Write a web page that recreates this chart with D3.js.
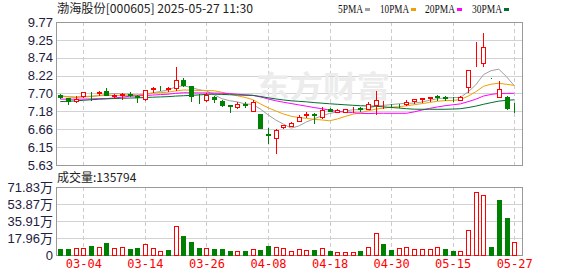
<!DOCTYPE html>
<html lang="zh">
<head>
  <meta charset="UTF-8">
  <title>渤海股份 K线</title>
  <style>
    body {
      margin: 0;
      padding: 0;
      background: #ffffff;
    }
    svg text {
      font-family: "Liberation Sans", Arial, sans-serif;
    }
  </style>
</head>
<body>
  <svg id="chart" width="578" height="276"></svg>

  <script src="https://d3js.org/d3.v7.min.js"></script>
  <script>
    const width = 578;
    const height = 276;

    // trading days shown
    const dates = [
      "02-27","02-28","03-03","03-04","03-05","03-06","03-07","03-10","03-11","03-12",
      "03-13","03-14","03-17","03-18","03-19","03-20","03-21","03-24","03-25","03-26",
      "03-27","03-28","03-31","04-01","04-02","04-03","04-07","04-08","04-09","04-10",
      "04-11","04-14","04-15","04-16","04-17","04-18","04-21","04-22","04-23","04-24",
      "04-25","04-28","04-29","04-30","05-06","05-07","05-08","05-09","05-12","05-13",
      "05-14","05-15","05-16","05-19","05-20","05-21","05-22","05-23","05-26","05-27"
    ];

    const opens = [
      7.67,7.56,7.48,7.63,7.72,7.71,7.77,7.62,7.66,7.68,
      7.62,7.55,7.84,7.89,7.84,7.85,8.10,7.91,7.58,7.51,
      7.60,7.49,7.37,7.30,7.41,7.20,7.10,6.52,6.40,6.72,
      6.77,6.90,7.08,7.11,7.01,7.25,7.15,7.17,7.24,7.27,
      7.25,7.36,7.36,7.37,7.38,7.39,7.47,7.55,7.58,7.62,
      7.60,7.58,7.52,7.89,8.60,8.59,8.15,7.61,7.59,7.31
    ];
    const highs = [
      7.69,7.57,7.62,7.74,7.73,7.77,7.85,7.68,7.70,7.75,
      7.65,7.80,7.88,7.91,7.89,8.47,8.15,7.93,7.68,7.72,
      7.64,7.50,7.37,7.44,7.44,7.51,7.10,6.69,6.67,6.80,
      6.87,7.07,7.17,7.14,7.31,7.27,7.25,7.26,7.30,7.31,
      7.46,7.78,7.49,7.41,7.40,7.52,7.54,7.57,7.59,7.67,
      7.63,7.60,7.63,8.37,9.18,9.45,8.15,8.05,7.63,7.43
    ];
    const lows = [
      7.58,7.41,7.45,7.60,7.50,7.66,7.66,7.58,7.55,7.62,
      7.46,7.52,7.75,7.80,7.78,7.79,7.92,7.49,7.43,7.48,
      7.46,7.34,7.17,7.29,7.30,7.20,6.71,6.27,5.99,6.70,
      6.75,6.89,7.01,6.86,6.98,7.18,7.15,7.16,7.17,7.18,
      7.24,7.12,7.29,7.33,7.31,7.38,7.43,7.44,7.47,7.51,
      7.51,7.49,7.50,7.75,8.49,8.49,8.15,7.61,7.25,7.17
    ];
    const closes = [
      7.60,7.47,7.55,7.73,7.71,7.73,7.66,7.67,7.68,7.66,
      7.60,7.80,7.86,7.88,7.85,8.08,7.94,7.63,7.56,7.66,
      7.53,7.37,7.34,7.39,7.37,7.45,6.71,6.50,6.64,6.78,
      6.86,7.01,7.10,7.08,7.22,7.20,7.22,7.24,7.26,7.25,
      7.39,7.51,7.38,7.36,7.37,7.46,7.53,7.56,7.59,7.60,
      7.58,7.56,7.61,8.37,8.62,9.06,8.15,7.82,7.29,7.30
    ];
    // closes of the 29 sessions before the window (needed for the moving averages)
    const priorCloses = [
      7.20,7.18,7.22,7.25,7.24,7.35,7.42,7.45,7.48,7.44,
      7.46,7.60,7.65,7.62,7.58,7.64,7.30,7.20,7.15,7.40,
      7.55,7.60,7.62,7.60,7.58,7.62,7.66,7.64,7.66
    ];
    // volume in 万手
    const volumes = [
      6.2,6.2,6.9,6.9,9.4,8.3,12.5,6.9,8.0,6.2,
      7.3,11.1,6.9,3.8,5.2,30.9,19.8,13.5,7.3,6.9,
      6.2,6.2,4.2,3.8,4.2,5.9,5.2,9.4,8.3,6.9,
      3.8,5.9,4.9,5.2,6.9,4.2,2.8,2.8,2.8,4.2,
      8.0,23.6,11.5,5.2,6.9,8.0,5.9,5.9,5.9,8.0,
      6.2,4.2,3.8,26.7,66.3,63.2,8.3,58.3,39.6,13.58
    ];

    const priceTicks = [5.63, 6.15, 6.66, 7.18, 7.70, 8.22, 8.74, 9.25, 9.77];
    const volTicks = [0, 17.96, 35.91, 53.87, 71.83];
    const dateTicks = ["03-04","03-14","03-26","04-08","04-18","04-30","05-15","05-27"];
    const maPeriods = [5, 10, 20, 30];
    const maColors = ["#a0a0a0", "#f0a000", "#ff00ff", "#006f2e"];

    const RED = "#ff0000";
    const GREEN = "#008000";

    const plotLeft = 56, plotRight = 522;
    const priceTop = 22, priceBottom = 165;
    const volTop = 187, volBottom = 255;

    const svg = d3.select("#chart");

    const x = d3.scalePoint().domain(dates).range([60.3, 514.2]);
    const y = d3.scaleLinear().domain([5.63, 9.77]).range([priceBottom, priceTop]);
    const yv = d3.scaleLinear().domain([0, 71.83]).range([volBottom, volTop]);
    const px = d => Math.round(x(d)) + 0.5;

    // grids
    function drawGrid(top, bottom, scale, ticks) {
      svg.append("g").selectAll("line")
        .data(ticks.slice(1, -1))
        .enter().append("line")
        .attr("x1", plotLeft).attr("x2", plotRight)
        .attr("y1", d => Math.round(scale(d)) + 0.5)
        .attr("y2", d => Math.round(scale(d)) + 0.5)
        .attr("stroke", "#d2d2d2");
      svg.append("g").selectAll("line")
        .data(dateTicks)
        .enter().append("line")
        .attr("x1", px).attr("x2", px)
        .attr("y1", top).attr("y2", bottom)
        .attr("stroke", "#cccccc")
        .attr("stroke-dasharray", "4,3");
      svg.append("rect")
        .attr("x", plotLeft + 0.5).attr("y", top + 0.5)
        .attr("width", plotRight - plotLeft).attr("height", bottom - top)
        .attr("fill", "none")
        .attr("stroke", "#999999");
    }
    drawGrid(priceTop, priceBottom, y, priceTicks);
    drawGrid(volTop, volBottom, yv, volTicks);

    // watermark
    svg.append("text")
      .attr("x", 256).attr("y", 97)
      .attr("textLength", 134)
      .attr("lengthAdjust", "spacingAndGlyphs")
      .style("font-family", "'Noto Sans CJK SC'")
      .style("font-size", "30px")
      .style("font-weight", "bold")
      .style("fill", "#ececec")
      .text("东方财富");

    // axes labels
    const axisColor = "#1e2040";
    const yAxis = d3.axisLeft(y).tickValues(priceTicks).tickSize(0).tickPadding(3)
      .tickFormat(d3.format(".2f"));
    svg.append("g")
      .attr("transform", `translate(${plotLeft},0)`)
      .call(yAxis)
      .call(g => g.select(".domain").remove())
      .selectAll("text")
      .style("font-size", "13px")
      .style("font-family", "'Liberation Sans'")
      .style("fill", axisColor);

    const vAxis = d3.axisLeft(yv).tickValues(volTicks).tickSize(0).tickPadding(3)
      .tickFormat(d => d === 0 ? "0" : d3.format(".2f")(d) + "万");
    svg.append("g")
      .attr("transform", `translate(${plotLeft},0)`)
      .call(vAxis)
      .call(g => g.select(".domain").remove())
      .selectAll("text")
      .style("font-size", "13px")
      .style("font-family", "'Liberation Sans', 'Noto Sans CJK SC'")
      .style("fill", axisColor);

    const xAxis = d3.axisBottom(x).tickValues(dateTicks).tickSize(0).tickPadding(0);
    svg.append("g")
      .attr("transform", `translate(0,${volBottom + 4})`)
      .call(xAxis)
      .call(g => g.select(".domain").remove())
      .selectAll("text")
      .attr("dy", "0.71em")
      .style("font-size", "12px")
      .style("font-family", "'DejaVu Sans Mono'")
      .style("fill", RED);

    // moving averages
    const allCloses = priorCloses.concat(closes);
    const offset = priorCloses.length;
    maPeriods.forEach((n, k) => {
      const ma = dates.map((d, i) => {
        const j = i + offset;
        return d3.mean(allCloses.slice(j - n + 1, j + 1));
      });
      const line = d3.line()
        .x((v, i) => x(dates[i]))
        .y(v => y(v));
      svg.append("path")
        .datum(ma)
        .attr("fill", "none")
        .attr("stroke", maColors[k])
        .attr("stroke-width", 1)
        .attr("d", line);
    });

    // candles
    const isUp = i => closes[i] > opens[i] ||
      (closes[i] === opens[i] && (i === 0 || closes[i] >= closes[i - 1]));
    const candles = svg.append("g");
    dates.forEach((d, i) => {
      const cx = px(d);
      const color = isUp(i) ? RED : GREEN;
      candles.append("line")
        .attr("x1", cx).attr("x2", cx)
        .attr("y1", Math.round(y(highs[i])))
        .attr("y2", Math.round(y(lows[i])) + 1)
        .attr("stroke", color);
      const top = Math.round(y(Math.max(opens[i], closes[i])));
      const bot = Math.round(y(Math.min(opens[i], closes[i])));
      candles.append("rect")
        .attr("x", cx - 2).attr("y", top + 0.5)
        .attr("width", 4).attr("height", Math.max(0, bot - top))
        .attr("fill", isUp(i) ? "#ffffff" : GREEN)
        .attr("stroke", color);
    });

    // volume bars, coloured against previous close
    const volUp = i => i === 0 ? isUp(0) : closes[i] >= closes[i - 1];
    svg.append("g").selectAll("rect")
      .data(volumes)
      .enter().append("rect")
      .attr("x", (v, i) => px(dates[i]) - 2)
      .attr("y", v => Math.round(yv(v)) + 0.5)
      .attr("width", 4)
      .attr("height", v => volBottom - Math.round(yv(v)))
      .attr("fill", (v, i) => volUp(i) ? "#ffffff" : GREEN)
      .attr("stroke", (v, i) => volUp(i) ? RED : GREEN);

    // titles
    svg.append("text")
      .attr("x", 57).attr("y", 12.5)
      .attr("textLength", 196)
      .attr("lengthAdjust", "spacingAndGlyphs")
      .style("font-family", "'Noto Sans CJK SC'")
      .style("font-size", "12px")
      .style("fill", "#222")
      .text("渤海股份[000605] 2025-05-27 11:30");

    svg.append("text")
      .attr("x", 57).attr("y", 182)
      .style("font-family", "'Noto Sans CJK SC'")
      .style("font-size", "12px")
      .style("fill", "#222")
      .text("成交量:135794");

    const legendItems = [
      { label: "5PMA", x: 338, w: 25 },
      { label: "10PMA", x: 380, w: 29 },
      { label: "20PMA", x: 425, w: 30 },
      { label: "30PMA", x: 472, w: 30 }
    ];
    legendItems.forEach((it, k) => {
      svg.append("text")
        .attr("x", it.x).attr("y", 13)
        .attr("textLength", it.w)
        .attr("lengthAdjust", "spacingAndGlyphs")
        .style("font-family", "'Liberation Serif'")
        .style("font-size", "12px")
        .style("fill", "#111")
        .text(it.label);
      svg.append("rect")
        .attr("x", it.x + it.w + 2).attr("y", 8)
        .attr("width", 5).attr("height", 3)
        .attr("fill", maColors[k]);
    });
  </script>
</body>
</html>
